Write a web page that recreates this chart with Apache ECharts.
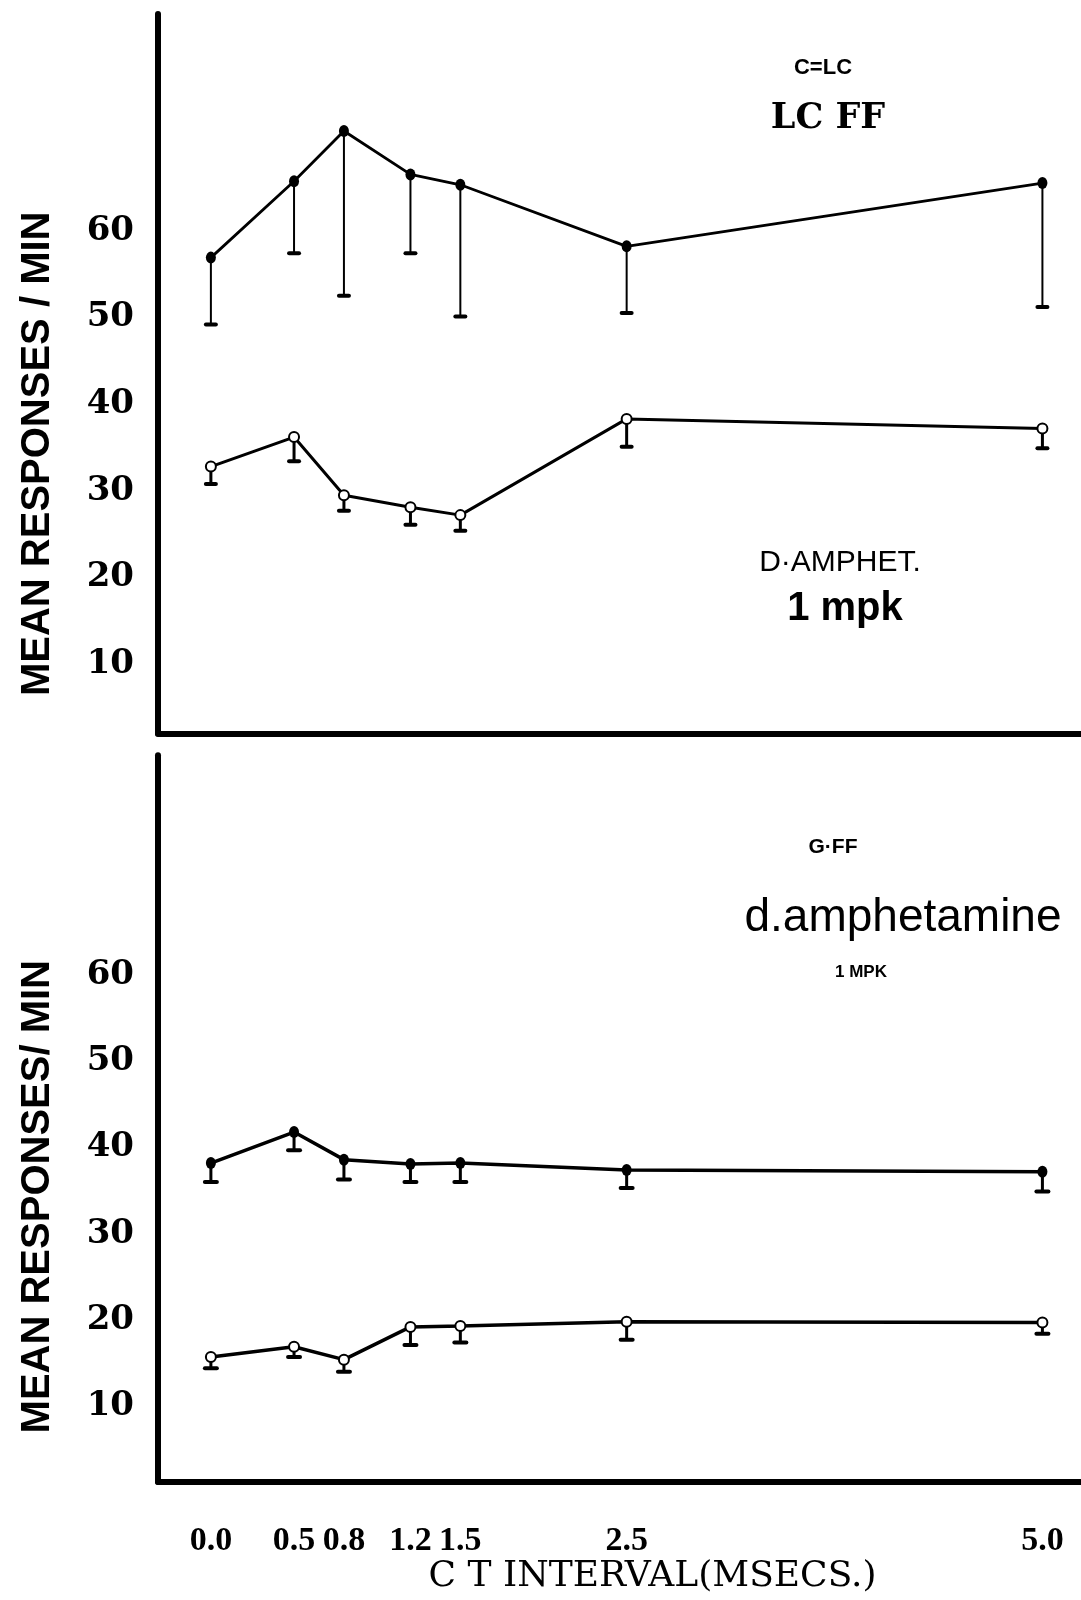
<!DOCTYPE html>
<html>
<head>
<meta charset="utf-8">
<script src="https://cdn.jsdelivr.net/npm/echarts@6/dist/echarts.min.js"></script>
<style>
  html, body { margin: 0; padding: 0; background: #fff; }
  #chart { width: 1081px; height: 1600px; }
</style>
</head>
<body>
<div id="chart"></div>
<script>
// CT interval (msec) at which responding was measured
const ctValues = [0, 0.5, 0.8, 1.2, 1.5, 2.5, 5.0];
const xTickLabels = ['0.0', '0.5', '0.8', '1.2', '1.5', '2.5', '5.0'];
const yTickValues = [10, 20, 30, 40, 50, 60];

// Upper panel (C=LC, LC FF; d-amphetamine 1 mpk): means and lower error limits
const lcFilledMean = [56.9, 65.7, 71.5, 66.5, 65.3, 58.2, 65.5];
const lcFilledLow  = [49.2, 57.4, 52.5, 57.4, 50.1, 50.5, 51.2];
const lcOpenMean   = [32.8, 36.2, 29.5, 28.1, 27.2, 38.3, 37.2];
const lcOpenLow    = [30.8, 33.4, 27.7, 26.1, 25.4, 35.1, 34.9];

// Lower panel (C=FF; d.amphetamine 1 MPK): means and lower error limits
const ffFilledMean = [38.2, 41.8, 38.6, 38.1, 38.2, 37.4, 37.2];
const ffFilledLow  = [36.0, 39.7, 36.3, 36.0, 36.0, 35.3, 34.9];
const ffOpenMean   = [15.7, 16.9, 15.4, 19.2, 19.3, 19.8, 19.7];
const ffOpenLow    = [14.4, 15.7, 14.0, 17.1, 17.4, 17.7, 18.4];

const INK = '#000';
const SERIF = '"DejaVu Serif", "Liberation Serif", serif';
const SANS = '"Liberation Sans", Arial, sans-serif';

function pairs(values) {
  return ctValues.map((x, i) => [x, values[i]]);
}

// One-sided (downward) error bars with a small cap at the lower limit
function errorBars(idx, means, lows, stem, capHalf, capWidth) {
  return {
    type: 'custom',
    xAxisIndex: idx,
    yAxisIndex: idx,
    silent: true,
    z: 2,
    encode: { x: 0, y: [1, 2] },
    data: ctValues.map((x, i) => [x, means[i], lows[i]]),
    renderItem: function (params, api) {
      const top = api.coord([api.value(0), api.value(1)]);
      const bot = api.coord([api.value(0), api.value(2)]);
      return {
        type: 'group',
        children: [
          { type: 'line', shape: { x1: top[0], y1: top[1], x2: bot[0], y2: bot[1] },
            style: { stroke: INK, lineWidth: stem } },
          { type: 'line', shape: { x1: bot[0] - capHalf, y1: bot[1], x2: bot[0] + capHalf, y2: bot[1] },
            style: { stroke: INK, lineWidth: capWidth, lineCap: 'round' } }
        ]
      };
    }
  };
}

function meanLine(idx, means, filled, width) {
  return {
    type: 'line',
    xAxisIndex: idx,
    yAxisIndex: idx,
    data: pairs(means),
    z: 3,
    symbol: filled ? 'circle' : 'emptyCircle',
    symbolSize: filled ? [10, 12] : 10,
    lineStyle: { color: INK, width: width },
    itemStyle: filled ? { color: INK } : { color: INK, borderColor: INK, borderWidth: 2.6 },
    emphasis: { disabled: true },
    animation: false
  };
}

function yAxis(idx, min, max, name, shift) {
  return {
    gridIndex: idx,
    type: 'value',
    min: min,
    max: max,
    axisLine: { show: true, onZero: false, lineStyle: { color: INK, width: 6 } },
    axisTick: { show: false },
    splitLine: { show: false },
    axisLabel: {
      customValues: yTickValues,
      margin: 24,
      color: INK,
      fontFamily: SERIF,
      fontWeight: 'bold',
      fontSize: 34
    },
    name: name,
    nameLocation: 'middle',
    nameRotate: 90,
    nameGap: 100,
    nameTextStyle: {
      color: INK,
      fontFamily: SANS,
      fontWeight: 'bold',
      fontSize: 40,
      padding: [0, shift, 0, 0]
    }
  };
}

function xAxis(idx, withLabels) {
  const ax = {
    gridIndex: idx,
    type: 'value',
    min: -0.318,
    max: 5.232,
    axisLine: { show: true, onZero: false, lineStyle: { color: INK, width: 6 } },
    axisTick: { show: false },
    splitLine: { show: false },
    axisLabel: { show: false }
  };
  if (withLabels) {
    ax.axisLabel = {
      show: true,
      customValues: ctValues,
      formatter: function (v) {
        const i = ctValues.indexOf(v);
        return i >= 0 ? xTickLabels[i] : v.toFixed(1);
      },
      margin: 42,
      color: INK,
      fontFamily: '"Liberation Serif", serif',
      fontWeight: 'bold',
      fontSize: 34
    };
    ax.name = 'C T INTERVAL(MSECS.)';
    ax.nameLocation = 'middle';
    ax.nameGap = 77;
    ax.nameTextStyle = {
      color: INK,
      fontFamily: SERIF,
      fontSize: 36,
      padding: [0, 0, 0, 66]
    };
  }
  return ax;
}

function note(text, x, y, font) {
  return {
    type: 'text',
    x: x,
    y: y,
    silent: true,
    style: { text: text, font: font, fill: INK, align: 'center', verticalAlign: 'middle',
             textAlign: 'center', textVerticalAlign: 'middle' }
  };
}

const chart = echarts.init(document.getElementById('chart'), null, { renderer: 'canvas' });

chart.setOption({
  backgroundColor: '#fff',
  animation: false,
  grid: [
    { left: 158, right: 0, top: 14, height: 719.6 },
    { left: 158, right: 0, top: 755.3, height: 726.8 }
  ],
  xAxis: [xAxis(0, false), xAxis(1, true)],
  yAxis: [
    yAxis(0, 2, 85, 'MEAN RESPONSES / MIN', 160),
    yAxis(1, 1.2, 85.5, 'MEAN RESPONSES/ MIN', 156)
  ],
  series: [
    errorBars(0, lcFilledMean, lcFilledLow, 2, 5, 4),
    errorBars(0, lcOpenMean, lcOpenLow, 3, 5, 4),
    errorBars(1, ffFilledMean, ffFilledLow, 3, 6, 4),
    errorBars(1, ffOpenMean, ffOpenLow, 3, 6, 4),
    meanLine(0, lcFilledMean, true, 2.8),
    meanLine(0, lcOpenMean, false, 3),
    meanLine(1, ffFilledMean, true, 3.5),
    meanLine(1, ffOpenMean, false, 3.5)
  ],
  graphic: [
    note('C=LC', 823, 68, 'bold 22px ' + SANS),
    note('LC FF', 828, 119, 'bold 35px ' + SERIF),
    note('D·AMPHET.', 840, 563, '30px ' + SANS),
    note('1 mpk', 845, 609, 'bold 40px ' + SANS),
    note('G·FF', 833, 847, 'bold 21px ' + SANS),
    note('d.amphetamine', 903, 918, '46px ' + SANS),
    note('1 MPK', 861, 972, 'bold 17px ' + SANS)
  ]
});
</script>
</body>
</html>
